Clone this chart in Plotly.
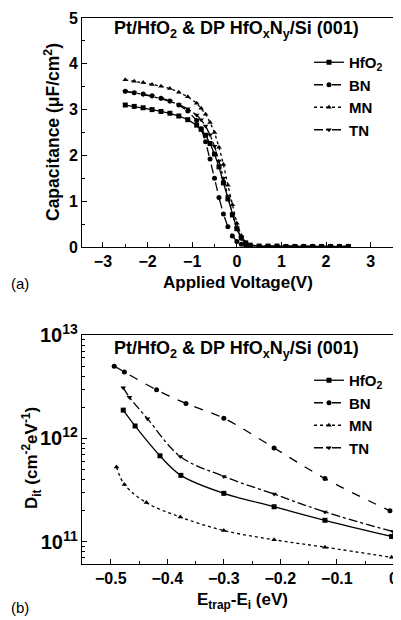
import plotly.graph_objects as go

# ---- Panel (a): C-V data ----
voltage = [-2.5, -2.3, -2.1, -1.9, -1.7, -1.5, -1.3, -1.1, -0.9, -0.8, -0.7, -0.6,
           -0.5, -0.4, -0.3, -0.2, -0.1, 0.0, 0.1, 0.2, 0.3, 0.5, 0.7, 0.9, 1.1,
           1.3, 1.5, 1.7, 1.9, 2.1, 2.3, 2.5]
cap_hfo2 = [3.10, 3.07, 3.04, 3.00, 2.96, 2.92, 2.86, 2.78, 2.66, 2.57, 2.44, 2.26,
            2.03, 1.75, 1.40, 1.05, 0.70, 0.40, 0.20, 0.09, 0.04, 0.02, 0.02, 0.02,
            0.01, 0.01, 0.01, 0.01, 0.01, 0.01, 0.01, 0.01]
cap_bn = [3.40, 3.37, 3.34, 3.30, 3.25, 3.19, 3.10, 2.97, 2.76, 2.58, 2.30, 1.92,
          1.50, 1.08, 0.72, 0.44, 0.24, 0.12, 0.06, 0.03, 0.02, 0.01, 0.01, 0.01,
          0.01, 0.01, 0.01, 0.01, 0.01, 0.01, 0.01, 0.01]
cap_mn = [3.65, 3.62, 3.59, 3.55, 3.51, 3.46, 3.38, 3.28, 3.14, 3.03, 2.90, 2.72,
          2.50, 2.18, 1.80, 1.35, 0.92, 0.52, 0.25, 0.10, 0.04, 0.02, 0.02, 0.02,
          0.02, 0.02, 0.02, 0.02, 0.02, 0.02, 0.02, 0.02]
cap_tn = [3.40, 3.37, 3.33, 3.29, 3.24, 3.18, 3.11, 3.02, 2.88, 2.78, 2.64, 2.45,
          2.20, 1.88, 1.50, 1.10, 0.72, 0.40, 0.18, 0.07, 0.03, 0.02, 0.02, 0.01,
          0.01, 0.01, 0.01, 0.01, 0.01, 0.01, 0.01, 0.01]

# ---- Panel (b): Dit data ----
e_hfo2 = [-0.478, -0.457, -0.413, -0.376, -0.300, -0.211, -0.121, -0.003]
dit_hfo2 = [1.88e12, 1.32e12, 6.8e11, 4.4e11, 2.95e11, 2.19e11, 1.62e11, 1.13e11]
e_bn = [-0.494, -0.476, -0.419, -0.367, -0.300, -0.211, -0.121, -0.006]
dit_bn = [5.0e12, 4.4e12, 2.95e12, 2.18e12, 1.57e12, 8.1e11, 4.1e11, 2.0e11]
e_mn = [-0.490, -0.476, -0.437, -0.377, -0.300, -0.211, -0.121, -0.003]
dit_mn = [5.3e11, 3.6e11, 2.4e11, 1.74e11, 1.29e11, 1.05e11, 8.9e10, 7.1e10]
e_tn = [-0.478, -0.467, -0.435, -0.377, -0.300, -0.211, -0.121, -0.001]
dit_tn = [3.1e12, 2.5e12, 1.55e12, 6.7e11, 4.3e11, 2.9e11, 1.95e11, 1.26e11]

# tick labels of panel (b) x axis
e_tickvals = [-0.5, -0.4, -0.3, -0.2, -0.1, 0.0]
e_ticktext = ["−0.5", "−0.4", "−0.3", "−0.2", "−0.1", "0"]

names = ["HfO<sub>2</sub>", "BN", "MN", "TN"]
dashes = ["solid", "dash", "dot", "dashdot"]
symbols = ["square", "circle", "triangle-up", "triangle-down"]

FONT = "Liberation Sans, Arial, sans-serif"
fig = go.Figure()

for nm, ys, d, s in zip(names, [cap_hfo2, cap_bn, cap_mn, cap_tn], dashes, symbols):
    fig.add_trace(go.Scatter(x=voltage, y=ys, name=nm, mode="lines+markers",
                             line=dict(color="black", width=1.3, dash=d),
                             marker=dict(color="black", size=5, symbol=s),
                             xaxis="x", yaxis="y", legend="legend"))

for nm, xs, ys, d, s in zip(names, [e_hfo2, e_bn, e_mn, e_tn],
                            [dit_hfo2, dit_bn, dit_mn, dit_tn], dashes, symbols):
    fig.add_trace(go.Scatter(x=xs, y=ys, name=nm, mode="lines+markers",
                             line=dict(color="black", width=1.3, dash=d, shape="spline"),
                             marker=dict(color="black", size=5, symbol=s),
                             xaxis="x2", yaxis="y2", legend="legend2"))

# page body has an 8px margin: the figure fills the rest of the 401x620 window
OFF = 8
W, H = 401 - OFF, 620 - OFF
def px(v):
    return (v - OFF) / W
def py(v):
    return 1 - (v - OFF) / H

tickfont = dict(family=FONT, size=16, color="black", weight="bold")
axcommon = dict(showline=True, linecolor="black", linewidth=1, mirror=True,
                ticks="inside", ticklen=5, tickcolor="black", showgrid=False,
                zeroline=False, tickfont=tickfont, automargin=False,
                ticklabeloverflow="allow")
minor_kw = dict(ticks="inside", ticklen=3, tickcolor="black")

legfont = dict(family=FONT, size=15, weight="bold", color="black")
fig.update_layout(
    width=W, height=H, paper_bgcolor="white", plot_bgcolor="white",
    margin=dict(l=0, r=0, t=0, b=0),
    font=dict(family=FONT, color="black"),
    xaxis=dict(domain=[px(82), px(393)], range=[-3.47, 3.5], dtick=1, anchor="y",
               minor=dict(dtick=0.5, **minor_kw), **axcommon),
    yaxis=dict(domain=[py(247), py(18)], range=[0, 5], dtick=1, anchor="x",
               minor=dict(dtick=0.5, **minor_kw), **axcommon),
    xaxis2=dict(domain=[px(82), px(397)], range=[-0.551, 0.0065],
                tickvals=e_tickvals, ticktext=e_ticktext, anchor="y2",
                minor=dict(dtick=0.05, tick0=0, **minor_kw), **axcommon),
    yaxis2=dict(domain=[py(564), py(335)], type="log", range=[10.787, 13],
                dtick=1, exponentformat="power", anchor="x2",
                minor=dict(dtick="D1", **minor_kw), **axcommon),
    legend=dict(x=px(309), y=py(46), xanchor="left", yanchor="top",
                bgcolor="rgba(0,0,0,0)", font=legfont,
                tracegroupgap=0, itemwidth=30),
    legend2=dict(x=px(309), y=py(364), xanchor="left", yanchor="top",
                 bgcolor="rgba(0,0,0,0)", font=legfont,
                 tracegroupgap=0, itemwidth=30),
    showlegend=True,
)

def note(text, x, y, size, angle=0, xanchor="center", bold=True):
    fig.add_annotation(text=text, x=px(x), y=py(y), xref="paper", yref="paper",
                       xanchor=xanchor, yanchor="middle", textangle=angle,
                       showarrow=False,
                       font=dict(family=FONT, size=size, color="black",
                                 weight="bold" if bold else "normal"))

title_txt = "Pt/HfO<sub>2</sub> &amp; DP HfO<sub>x</sub>N<sub>y</sub>/Si (001)"
note(title_txt, 236, 30, 18)
note(title_txt, 236, 349, 18)
note("Applied Voltage(V)", 238, 282, 17)
note("Capacitance (μF/cm<sup>2</sup>)", 52, 132, 17.5, angle=-90)
note("E<sub>trap</sub>-E<sub>i</sub> (eV)", 242, 601, 17)
note("D<sub>it</sub> (cm<sup>-2</sup>eV<sup>-1</sup>)", 31, 458, 17, angle=-90)
note("(a)", 9, 283, 15, xanchor="left", bold=False)
note("(b)", 9, 607, 15, xanchor="left", bold=False)

fig.write_html("out.html")
